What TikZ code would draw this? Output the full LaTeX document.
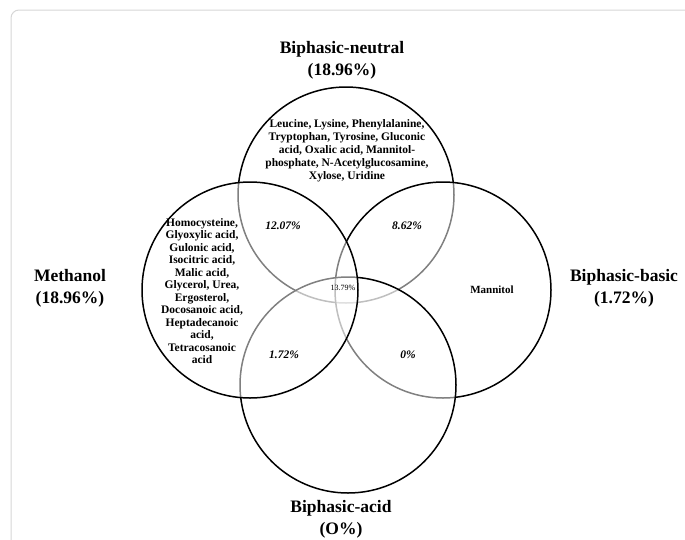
\documentclass[tikz,border=0pt]{standalone}
\usepackage{fontspec}
\setmainfont{Liberation Serif}
\usetikzlibrary{positioning}
\definecolor{frameGray}{RGB}{214,214,214}

\begin{document}
\begin{tikzpicture}[x=1pt, y=-1pt, line width=1.5pt,
    setname/.style={align=center, font=\fontsize{17.5}{22}\selectfont\bfseries},
    members/.style={align=center, font=\fontsize{11.5}{13}\selectfont\bfseries},
    share/.style={font=\fontsize{11.5}{13}\selectfont\bfseries\itshape}]
    \useasboundingbox (0,0) rectangle (685,539);
    \draw[frameGray, line width=1pt, rounded corners=8pt] (11,700) -- (11,10) -- (700,10);

    \foreach \cx/\cy in {346/195,443/290,348/385,250/290} {
        \draw[fill=white, fill opacity=0.5] (\cx,\cy) circle (108pt);
    }

    \node[setname] (neutral) at (342,60) {Biphasic-neutral\\(18.96\%)};
    \node[setname] (methanol) at (70,288) {Methanol\\(18.96\%)};
    \node[setname] (basic) at (624,288) {Biphasic-basic\\(1.72\%)};
    \node[setname] (acid) at (341,519) {Biphasic-acid\\(O\%)};

    \node[members] (neutralOnly) at (347,151) {Leucine, Lysine, Phenylalanine,\\Tryptophan, Tyrosine, Gluconic\\acid, Oxalic acid, Mannitol-\\phosphate, N-Acetylglucosamine,\\Xylose, Uridine};
    \node[members, font=\fontsize{11.5}{12.5}\selectfont\bfseries] (methanolOnly) at (202,291) {Homocysteine,\\Glyoxylic acid,\\Gulonic acid,\\Isocitric acid,\\Malic acid,\\Glycerol, Urea,\\Ergosterol,\\Docosanoic acid,\\Heptadecanoic\\acid,\\Tetracosanoic\\acid};
    \node[members, font=\fontsize{11}{13}\selectfont\bfseries] (basicOnly) at (492,290) {Mannitol};

    \node[share] (neuMet) at (283,226) {12.07\%};
    \node[share] (neuBas) at (407,226) {8.62\%};
    \node[share] (metAci) at (284,355) {1.72\%};
    \node[share] (basAci) at (408,355) {0\%};
    \node[font=\fontsize{8}{10}\selectfont] (core) at (343,288) {13.79\%};
\end{tikzpicture}
\end{document}
